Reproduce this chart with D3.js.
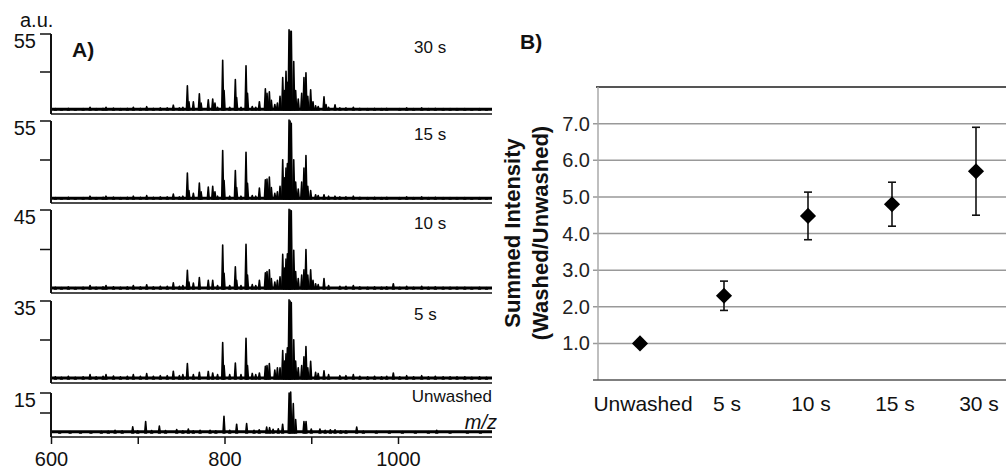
<!DOCTYPE html>
<html>
<head>
<meta charset="utf-8">
<script src="https://cdn.jsdelivr.net/npm/d3@7"></script>
<style>
    body { margin: 0; background: #fff; }
    svg { display: block; font-family: "Liberation Sans", Arial, sans-serif; }
</style>
</head>
<body>
<svg id="chart" width="1006" height="474"></svg>
<script>
// ---- panel A: spectra, peaks as [m/z, intensity a.u.] ----
var spectrumLabels = ["30 s", "15 s", "10 s", "5 s", "Unwashed"];
var spectrumMax = [55, 55, 45, 35, 15];

var peaks30 = [[757.2,17.6],[759,6],[764.1,5.9],[771,11.7],[773,5],[781.3,7.3],[786.4,8],[789,5],[797.9,36],[799.5,14],
    [812.5,22],[814,9],[824.8,32],[826.5,12],[840.2,6],[847.1,15.4],[849,12],[851.7,13.2],[854,7],[864,10],[867.1,23.5],
    [869,14],[870.9,28],[872.5,20],[874.4,58],[875.6,57],[877,57],[879.8,35],[882,14],[885,8],[889,12],[891.6,23.5],
    [893.9,27],[896,10],[899.3,14.7],[902,6],[914.7,9.5],[917,4],[927.4,3.7]];
var peaks15 = [[757.2,18.3],[759,6],[764.1,4],[771,11.2],[773,5],[781.3,8.4],[786.4,8.9],[789,5],[797.9,34.2],[799.5,13],
    [812.5,20.1],[814,8],[824.8,33],[826.5,11],[840.2,7.7],[847.1,13.6],[849,14],[851.7,15.5],[854,8],[864,9],[867.1,27.6],
    [869,15],[870.9,21.8],[872.5,25],[874.4,55.7],[875.6,55],[877,53.4],[879.8,27.6],[882,12],[885,7],[889,12],[891.6,21.8],
    [893.9,30.7],[896,9],[899.3,5.9],[914.7,3],[927.4,2]];
var peaks10 = [[757.2,10.7],[759,4],[764.1,3.4],[771,6.5],[781.3,5],[786.4,5],[797.9,25],[799.5,9],[812.5,12.6],[814,5],
    [824.8,25.4],[826.5,8],[840.2,5],[847.1,9.2],[849,10],[851.7,11],[854,6],[864,7],[867.1,19.7],[869,12],[870.9,17],
    [872.5,20],[874.4,45.4],[875.6,45],[877,44.5],[879.8,22],[882,10],[885,6],[889,8],[891.6,11],[893.9,22.5],[896,8],
    [899.3,11],[902,5],[914.7,6],[994.6,3]];
var peaks5 = [[757.2,6.9],[764.1,2],[771,3],[781.3,3.4],[786.4,2.7],[797.9,16.4],[799.5,6],[812.5,7.2],[824.8,18.3],[826.5,6],
    [840.2,2.7],[847.1,5.7],[849,6],[851.7,6.9],[864,5],[867.1,12.8],[869,8],[870.9,11.3],[872.5,14],[874.4,35.5],[875.6,35],
    [877,34.3],[879.8,17.6],[882,8],[885,5],[889,6],[891.6,10],[893.9,14.6],[896,5],[899.3,7.9],[914.7,3.7],[994.6,2.7]];
var peaks0 = [[673.8,1],[694.2,2.3],[709.1,4.3],[724.9,2.6],[744.9,1.3],[758.3,1.5],[771.8,1],[783.3,1],[799.4,6.3],[814,3.3],
    [825.5,3.5],[848.6,2.2],[852,2],[867,3.3],[874.5,15],[876.3,15.4],[879.3,11],[882,5],[891.6,4.3],[894,4.3],[910,1.5],
    [927.4,1.2],[952.4,2.2],[1044.6,1]];

// small baseline noise peaks
var noiseWashed = [[605,1],[612,0.8],[620,1.2],[628,0.8],[637,1],[645,2],[652,1],[660,1.2],[663.4,2],[672,1.3],[680,1],
    [688,1.2],[694.9,2],[703,1.2],[710.3,2.4],[718,1.2],[726,1.5],[734,1.5],[741,3.5],[748,1.5],[752,2],[792,2],[806,2],
    [819,2],[832,2.5],[836,2],[858,4],[861,5],[905,3],[908,2.5],[920,2],[933,1.5],[940,1.5],[948.5,2],[956,1.2],[965,1],
    [973,1.2],[981,1],[987,1.2],[1002,1],[1010,1.5],[1018,1],[1027.3,1.5],[1035,1],[1043,1.2],[1052,1],[1060,1],[1068,1],
    [1077,1],[1085,0.8],[1094,1],[1102,0.8]];
var noiseUnwashed = [[610,0.4],[622,0.5],[634,0.4],[646,0.5],[658,0.6],[666,0.7],[682,0.8],[700,0.8],[716,0.9],[732,0.9],
    [752,0.8],[764,0.8],[790,0.8],[806,1],[834,1],[840,1.2],[856,1.4],[862,1.6],[900,1.5],[916,1],[922,1.2],[934,0.8],
    [940,0.8],[960,0.7],[975,0.6],[990,0.6],[1005,0.5],[1020,0.5],[1035,0.5],[1060,0.4],[1080,0.4],[1095,0.4]];

// ---- panel B: summed intensity ratio ----
var washTimes = ["Unwashed", "5 s", "10 s", "15 s", "30 s"];
var ratioValues = [1.0, 2.3, 4.48, 4.8, 5.7];
var ratioErrors = [0, 0.4, 0.65, 0.6, 1.2];
var ratioTicks = [1, 2, 3, 4, 5, 6, 7];

var svg = d3.select("svg#chart");
svg.append("rect").attr("width", 1006).attr("height", 474).attr("fill", "#fff");

var spectra = [peaks30.concat(noiseWashed), peaks15.concat(noiseWashed), peaks10.concat(noiseWashed),
    peaks5.concat(noiseWashed), peaks0.concat(noiseUnwashed)];
var panelTop = [34, 121, 210, 301, 393];
var panelBase = [110, 199, 289, 379, 433];

var x = d3.scaleLinear().domain([600, 1000]).range([51, 398]);
var xEnd = 492;
var halfW = 1.1; // peak half width in m/z

spectra.forEach((pk, i) => {
    var y = d3.scaleLinear().domain([0, spectrumMax[i]]).range([panelBase[i], panelTop[i]]);
    var g = svg.append("g");

    // frame: y axis, lower line
    g.append("line").attr("x1", 51).attr("x2", 51).attr("y1", panelTop[i]).attr("y2", panelBase[i] + 4)
        .attr("stroke", "#111").attr("stroke-width", 2);
    g.append("line").attr("x1", 51).attr("x2", xEnd).attr("y1", panelBase[i] + 4).attr("y2", panelBase[i] + 4)
        .attr("stroke", "#111").attr("stroke-width", 1.5);
    [spectrumMax[i], spectrumMax[i] / 2].forEach(t => {
        g.append("line").attr("x1", 40).attr("x2", 51).attr("y1", y(t)).attr("y2", y(t))
            .attr("stroke", "#111").attr("stroke-width", 1.5);
    });
    g.append("text").attr("x", 36).attr("y", y(spectrumMax[i]) + 14).attr("text-anchor", "end")
        .style("font-size", "20px").attr("fill", "#111").text(spectrumMax[i]);

    // spectrum baseline + peaks
    g.append("line").attr("x1", 52).attr("x2", xEnd).attr("y1", y(0.5)).attr("y2", y(0.5))
        .attr("stroke", "#000").attr("stroke-width", 3);
    g.selectAll("path.peak")
        .data(pk)
        .enter()
        .append("path")
        .attr("class", "peak")
        .attr("d", d => "M" + x(d[0] - halfW) + "," + y(0) + "L" + x(d[0]) + "," + y(d[1]) +
            "L" + x(d[0] + halfW) + "," + y(0) + "Z")
        .attr("fill", "#000").attr("stroke", "#000").attr("stroke-width", 1.6)
        .attr("stroke-linejoin", "round");

    var lab = g.append("text").attr("fill", "#111").text(spectrumLabels[i]);
    if (i < 4) {
        lab.attr("x", 414).attr("y", panelTop[i] + 19).style("font-size", "17px");
    } else {
        lab.attr("x", 492).attr("y", 402).attr("text-anchor", "end").style("font-size", "17px");
    }
});

// bottom m/z axis
var axA = svg.append("g").attr("transform", "translate(0," + (panelBase[4] + 4) + ")")
    .call(d3.axisBottom(x).tickValues([600, 700, 800, 900, 1000]).tickSize(7).tickFormat(d => d % 200 === 0 ? d : ""));
axA.select(".domain").remove();
axA.selectAll("line").attr("stroke", "#111").attr("stroke-width", 1.5);
axA.selectAll("text").style("font-size", "20px").attr("fill", "#111").attr("dy", "0.95em");

svg.append("text").attr("x", 497).attr("y", 429).attr("text-anchor", "end")
    .style("font-size", "20px").style("font-style", "italic").attr("fill", "#111").text("m/z");
svg.append("text").attr("x", 20).attr("y", 27).style("font-size", "20px").attr("fill", "#111").text("a.u.");
svg.append("text").attr("x", 72).attr("y", 57).style("font-size", "21px").style("font-weight", "bold")
    .attr("fill", "#111").text("A)");

// ---- panel B ----
var bx = d3.scaleBand().domain(washTimes).range([598, 1018]);
var by = d3.scaleLinear().domain([0, 8]).range([380, 87]);

svg.append("text").attr("x", 520).attr("y", 49).style("font-size", "21px").style("font-weight", "bold")
    .attr("fill", "#111").text("B)");

// gridlines
svg.selectAll("line.grid")
    .data(ratioTicks)
    .enter()
    .append("line")
    .attr("class", "grid")
    .attr("x1", 593).attr("x2", 1018)
    .attr("y1", d => by(d)).attr("y2", d => by(d))
    .attr("stroke", "#999").attr("stroke-width", 1.5);
svg.selectAll("text.ytick")
    .data(ratioTicks)
    .enter()
    .append("text")
    .attr("class", "ytick")
    .attr("x", 590).attr("y", d => by(d) + 7)
    .attr("text-anchor", "end")
    .style("font-size", "20px").attr("fill", "#222")
    .text(d => d.toFixed(1));

svg.append("line").attr("x1", 596).attr("x2", 1018).attr("y1", by(8)).attr("y2", by(8))
    .attr("stroke", "#555").attr("stroke-width", 2);
svg.append("line").attr("x1", 598).attr("x2", 598).attr("y1", by(8)).attr("y2", by(0))
    .attr("stroke", "#aaa").attr("stroke-width", 1.5);
svg.append("line").attr("x1", 593).attr("x2", 1018).attr("y1", by(0)).attr("y2", by(0))
    .attr("stroke", "#555").attr("stroke-width", 1.5);

// category labels
svg.selectAll("text.xcat")
    .data(washTimes)
    .enter()
    .append("text")
    .attr("class", "xcat")
    .attr("x", d => bx(d) + bx.bandwidth() / 2 + 3).attr("y", 411)
    .attr("text-anchor", "middle")
    .style("font-size", "21px").attr("fill", "#111")
    .text(d => d);

// y title
var title = svg.append("text").attr("transform", "translate(520,233) rotate(-90)")
    .attr("text-anchor", "middle").style("font-size", "22px").style("font-weight", "bold").attr("fill", "#111");
title.append("tspan").attr("x", 0).attr("y", 0).text("Summed Intensity");
title.append("tspan").attr("x", 0).attr("y", 28).text("(Washed/Unwashed)");

// error bars + diamonds
var pts = washTimes.map((t, i) => ({ t: t, v: ratioValues[i], e: ratioErrors[i] }));
var eb = svg.selectAll("g.err")
    .data(pts.filter(d => d.e > 0))
    .enter()
    .append("g")
    .attr("class", "err")
    .attr("stroke", "#111").attr("stroke-width", 1.6);
eb.append("line")
    .attr("x1", d => bx(d.t) + bx.bandwidth() / 2).attr("x2", d => bx(d.t) + bx.bandwidth() / 2)
    .attr("y1", d => by(d.v - d.e)).attr("y2", d => by(d.v + d.e));
eb.append("line")
    .attr("x1", d => bx(d.t) + bx.bandwidth() / 2 - 4).attr("x2", d => bx(d.t) + bx.bandwidth() / 2 + 4)
    .attr("y1", d => by(d.v + d.e)).attr("y2", d => by(d.v + d.e));
eb.append("line")
    .attr("x1", d => bx(d.t) + bx.bandwidth() / 2 - 4).attr("x2", d => bx(d.t) + bx.bandwidth() / 2 + 4)
    .attr("y1", d => by(d.v - d.e)).attr("y2", d => by(d.v - d.e));

svg.selectAll("path.pt")
    .data(pts)
    .enter()
    .append("path")
    .attr("class", "pt")
    .attr("d", d3.symbol(d3.symbolSquare, 130))
    .attr("transform", d => "translate(" + (bx(d.t) + bx.bandwidth() / 2) + "," + by(d.v) + ") rotate(45)")
    .attr("fill", "#000");
</script>
</body>
</html>
